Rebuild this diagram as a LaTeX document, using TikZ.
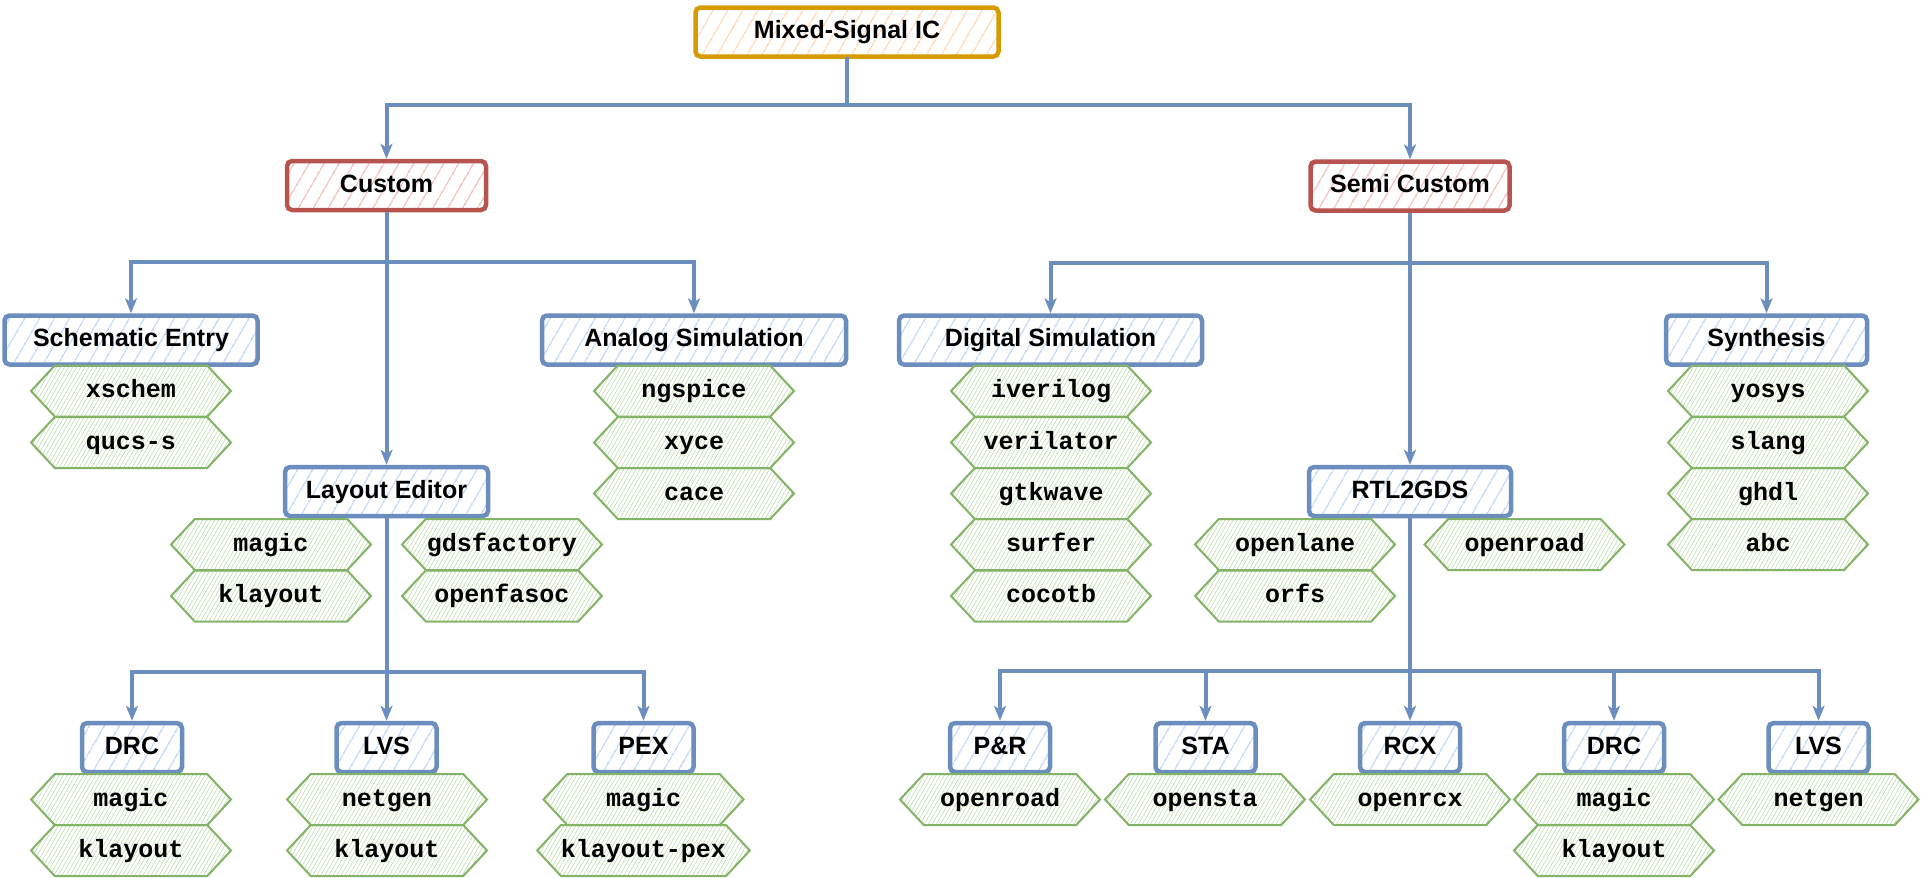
\documentclass[tikz,border=0pt]{standalone}
\usepackage{fontspec}
\setmainfont{Liberation Sans}
\setmonofont{Liberation Mono}
\usetikzlibrary{arrows.meta,patterns.meta,shapes.symbols}

\definecolor{lnblue}{HTML}{6C8EBF}
\definecolor{htblue}{HTML}{C9DCF6}
\definecolor{lnred}{HTML}{B85450}
\definecolor{htred}{HTML}{F4C4C2}
\definecolor{lnorange}{HTML}{D79B00}
\definecolor{htorange}{HTML}{FFDDBB}
\definecolor{lngreen}{HTML}{82B366}
\definecolor{htgreen}{HTML}{BEDCAD}

\begin{document}
\begin{tikzpicture}
	 [x=1pt,y=-1pt,
	  every node/.style={inner sep=0pt,text height=18pt,text depth=5pt,font=\fontsize{25}{30}\selectfont\bfseries},
	  boxb/.style={draw=lnblue,line width=4.5pt,rounded corners=5pt,minimum height=49pt,
	    pattern={Lines[angle=60,distance=13pt,line width=1.6pt]},pattern color=htblue},
	  boxr/.style={boxb,draw=lnred,pattern color=htred},
	  boxo/.style={boxb,draw=lnorange,pattern color=htorange},
	  hex/.style={signal,signal to=west and east,signal pointer angle=94,draw=lngreen,line width=2pt,
	    minimum width=200pt,minimum height=51pt,font=\fontsize{25}{30}\selectfont\ttfamily\bfseries,
	    pattern={Lines[angle=60,distance=3.5pt,line width=0.6pt]},pattern color=htgreen},
	  link/.style={draw=lnblue,line width=4pt,-{Stealth[length=15pt,width=12pt,inset=4pt]}}]
	\useasboundingbox (0,0) rectangle (1922,878);

%	top levels
	  \node[boxo,minimum width=303pt] (ic) at (847,32) {Mixed-Signal IC};
	  \node[boxr,minimum width=199pt] (cu) at (386.5,185.5) {Custom};
	  \node[boxr,minimum width=199pt] (sc) at (1410,186) {Semi Custom};

	  \node[boxb,minimum width=253pt] (se) at (131,340) {Schematic Entry};
	  \node[boxb,minimum width=304pt] (as) at (694,340) {Analog Simulation};
	  \node[boxb,minimum width=303pt] (ds) at (1050.5,340) {Digital Simulation};
	  \node[boxb,minimum width=201pt] (sy) at (1766.5,340) {Synthesis};
	  \node[boxb,minimum width=203pt] (le) at (386.5,491.5) {Layout Editor};
	  \node[boxb,minimum width=202pt] (rg) at (1410,491.5) {RTL2GDS};

%	checks
	  \node[boxb,minimum width=100pt] (drc1) at (132,747.5) {DRC};
	  \node[boxb,minimum width=100pt] (lvs1) at (386.5,747.5) {LVS};
	  \node[boxb,minimum width=100pt] (pex) at (643.5,747.5) {PEX};
	  \node[boxb,minimum width=100pt] (pr) at (1000,747.5) {P\&R};
	  \node[boxb,minimum width=100pt] (sta) at (1205.5,747.5) {STA};
	  \node[boxb,minimum width=100pt] (rcx) at (1410,747.5) {RCX};
	  \node[boxb,minimum width=100pt] (drc2) at (1614,747.5) {DRC};
	  \node[boxb,minimum width=100pt] (lvs2) at (1818.5,747.5) {LVS};

%	tools
	  \node[hex] (t1) at (131,391) {xschem};
	  \node[hex] (t2) at (131,442.5) {qucs-s};
	  \node[hex] (t3) at (694,391) {ngspice};
	  \node[hex] (t4) at (694,442.5) {xyce};
	  \node[hex] (t5) at (694,493.5) {cace};
	  \node[hex] (t6) at (271,544.5) {magic};
	  \node[hex] (t7) at (271,596) {klayout};
	  \node[hex] (t8) at (502,544.5) {gdsfactory};
	  \node[hex] (t9) at (502,596) {openfasoc};

	  \node[hex] (u1) at (1051,391) {iverilog};
	  \node[hex] (u2) at (1051,442.5) {verilator};
	  \node[hex] (u3) at (1051,493.5) {gtkwave};
	  \node[hex] (u4) at (1051,544.5) {surfer};
	  \node[hex] (u5) at (1051,596) {cocotb};
	  \node[hex] (u6) at (1295,544.5) {openlane};
	  \node[hex] (u7) at (1295,596) {orfs};
	  \node[hex] (u8) at (1524.5,544.5) {openroad};
	  \node[hex] (u9) at (1768,391) {yosys};
	  \node[hex] (u10) at (1768,442.5) {slang};
	  \node[hex] (u11) at (1768,493.5) {ghdl};
	  \node[hex] (u12) at (1768,544.5) {abc};

	  \node[hex] (v1) at (131,799.5) {magic};
	  \node[hex] (v2) at (131,850.5) {klayout};
	  \node[hex] (v3) at (387,799.5) {netgen};
	  \node[hex] (v4) at (387,850.5) {klayout};
	  \node[hex] (v5) at (643.5,799.5) {magic};
	  \node[hex] (v6) at (643.5,850.5) {klayout-pex};
	  \node[hex] (v7) at (1000,799.5) {openroad};
	  \node[hex] (v8) at (1205,799.5) {opensta};
	  \node[hex] (v9) at (1410,799.5) {openrcx};
	  \node[hex] (v10) at (1614,799.5) {magic};
	  \node[hex] (v11) at (1614,850.5) {klayout};
	  \node[hex] (v12) at (1818.5,799.5) {netgen};

	\foreach \from/\to/\d in {ic/cu/48,ic/sc/48,cu/se/50,cu/as/50,sc/ds/50,sc/sy/50,
	    le/drc1/154,le/pex/154,rg/pr/153,rg/sta/153,rg/drc2/153,rg/lvs2/153}
    \draw[link] (\from.south) -- ++(0,\d) -| (\to.north);

	\foreach \from/\to in {cu/le,sc/rg,le/lvs1,rg/rcx}
    \draw[link] (\from) -- (\to);

\end{tikzpicture}
\end{document}
